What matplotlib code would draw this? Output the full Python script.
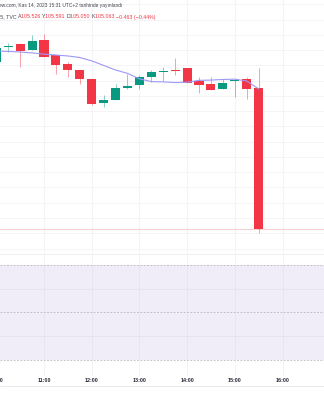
import matplotlib
matplotlib.use("Agg")
import matplotlib.pyplot as plt
from matplotlib.transforms import blended_transform_factory
import numpy as np

# 15 minute candles, DXY (TVC)
times = ["10:00", "10:15", "10:30", "10:45", "11:00", "11:15", "11:30", "11:45",
         "12:00", "12:15", "12:30", "12:45", "13:00", "13:15", "13:30", "13:45",
         "14:00", "14:15", "14:30", "14:45", "15:00", "15:15", "15:30"]
opens = [105.610, 105.662, 105.669, 105.650, 105.683, 105.633, 105.604, 105.586,
         105.555, 105.477, 105.488, 105.527, 105.536, 105.561, 105.579, 105.585,
         105.591, 105.550, 105.540, 105.522, 105.548, 105.555, 105.526]
highs = [105.664, 105.674, 105.674, 105.701, 105.703, 105.633, 105.610, 105.586,
         105.556, 105.503, 105.539, 105.572, 105.567, 105.584, 105.595, 105.623,
         105.593, 105.563, 105.561, 105.555, 105.556, 105.561, 105.591]
lows = [105.606, 105.645, 105.596, 105.650, 105.627, 105.572, 105.561, 105.539,
        105.471, 105.465, 105.487, 105.524, 105.523, 105.546, 105.549, 105.569,
        105.542, 105.511, 105.520, 105.522, 105.496, 105.489, 105.050]
closes = [105.658, 105.664, 105.647, 105.681, 105.629, 105.600, 105.584, 105.555,
          105.474, 105.487, 105.526, 105.534, 105.563, 105.578, 105.583, 105.582,
          105.543, 105.537, 105.520, 105.543, 105.552, 105.524, 105.063]
ma = [105.647, 105.646, 105.644, 105.641, 105.637, 105.634, 105.631, 105.626,
      105.615, 105.600, 105.585, 105.574, 105.556, 105.547, 105.546, 105.544,
      105.545, 105.551, 105.552, 105.554, 105.555, 105.549, 105.523]

hour_labels = ["10:00", "11:00", "12:00", "13:00", "14:00", "15:00", "16:00", "17:00"]
rsi_bands = [70, 50, 30]
rsi_grid = [60, 40]

header1 = "TradingView.com, Kas 14, 2023 15:31 UTC+2 tarihinde yayınlandı"
header2 = [("ABD Dolar Endeksi, 15, TVC ", "#434651"),
           ("A", "#434651"), ("105.526 ", "#f23645"),
           ("Y", "#434651"), ("105.591 ", "#f23645"),
           ("D", "#434651"), ("105.050 ", "#f23645"),
           ("K", "#434651"), ("105.063 ", "#f23645"),
           ("\u22120.463 (\u22120.44%)", "#f23645")]

GREEN = "#089981"
RED = "#f23645"
GRID = "#f2f3f6"
FONT = "Liberation Sans"


def qidx(t):
    h, m = t.split(":")
    return (int(h) - 10) * 4 + int(m) / 15


x = np.array([qidx(t) for t in times])
o = np.array(opens)
c = np.array(closes)
up = c >= o

W, H = 324, 400
qpx = 11.925          # pixels per 15 minutes
x0 = 3.7 / qpx        # left edge in candle units


def fy(px):
    return 1 - px / H


fig = plt.figure(figsize=(W / 100, H / 100), dpi=100)
fig.patch.set_facecolor("white")

# main price pane
ax = fig.add_axes([0, fy(253.5), 1, 253.5 / H])
ax.set_xlim(x0, x0 + W / qpx)
ax.set_ylim(104.9837, 105.8144)
for s in ax.spines.values():
    s.set_visible(False)
ax.set_xticks([])
ax.set_yticks([])
for p in np.arange(105.00, 105.81, 0.05):
    ax.axhline(p, color=GRID, lw=0.6, zorder=0)
for hl in hour_labels:
    ax.axvline(qidx(hl), color=GRID, lw=0.6, zorder=0)

# last price line
ax.axhline(closes[-1], color="#f9c3c8", lw=0.6, zorder=1)

cols = np.where(up, GREEN, RED)
ax.vlines(x, lows, highs, colors=cols, lw=0.6, alpha=0.55, zorder=2)
body_lo = np.minimum(o, c)
body_h = np.maximum(np.abs(c - o), 0.0015)
ax.bar(x, body_h, bottom=body_lo, width=0.76, color=cols, linewidth=0, zorder=3)
ax.plot(x, ma, color="#9d98f7", lw=0.8, zorder=4)

# lower indicator pane
rax = fig.add_axes([0, fy(376), 1, (376 - 253.5) / H])
rax.set_xlim(ax.get_xlim())
rax.set_ylim(23.26, 74.84)
for s in rax.spines.values():
    s.set_visible(False)
rax.spines["top"].set_visible(True)
rax.spines["top"].set_color("#eceef2")
rax.spines["top"].set_linewidth(0.6)
rax.set_xticks([])
rax.set_yticks([])
for g in rsi_grid:
    rax.axhline(g, color=GRID, lw=0.6, zorder=0)
for hl in hour_labels:
    rax.axvline(qidx(hl), color=GRID, lw=0.6, zorder=0)
rax.axhspan(min(rsi_bands), max(rsi_bands), color="#7e57c2", alpha=0.1, lw=0, zorder=1)
for b in rsi_bands:
    rax.axhline(b, color="#b2b5be", lw=0.6, ls=(0, (2, 2)), zorder=2)

# time axis labels
tr = blended_transform_factory(rax.transData, fig.transFigure)
for hl in hour_labels:
    rax.text(qidx(hl), fy(380.5), hl, transform=tr, ha="center", va="center",
             fontsize=3.9, fontweight="bold", family=FONT, color="#2a2e39", clip_on=False)
fig.add_artist(plt.Line2D([0, 1], [fy(386), fy(386)], color="#e0e3eb", lw=0.5))

# header text
fig.text(122 / W, fy(6), header1, ha="right", va="center", fontsize=3.5,
         family=FONT, color="#434651")
fig.canvas.draw()
r = fig.canvas.get_renderer()
xpos = 155 / W
for txt, col in reversed(header2):
    t = fig.text(xpos, fy(17), txt, ha="right", va="center", fontsize=3.8,
                 family=FONT, color=col)
    bb = t.get_window_extent(renderer=r)
    xpos -= bb.width / W

fig.savefig("out.png", dpi=100)
